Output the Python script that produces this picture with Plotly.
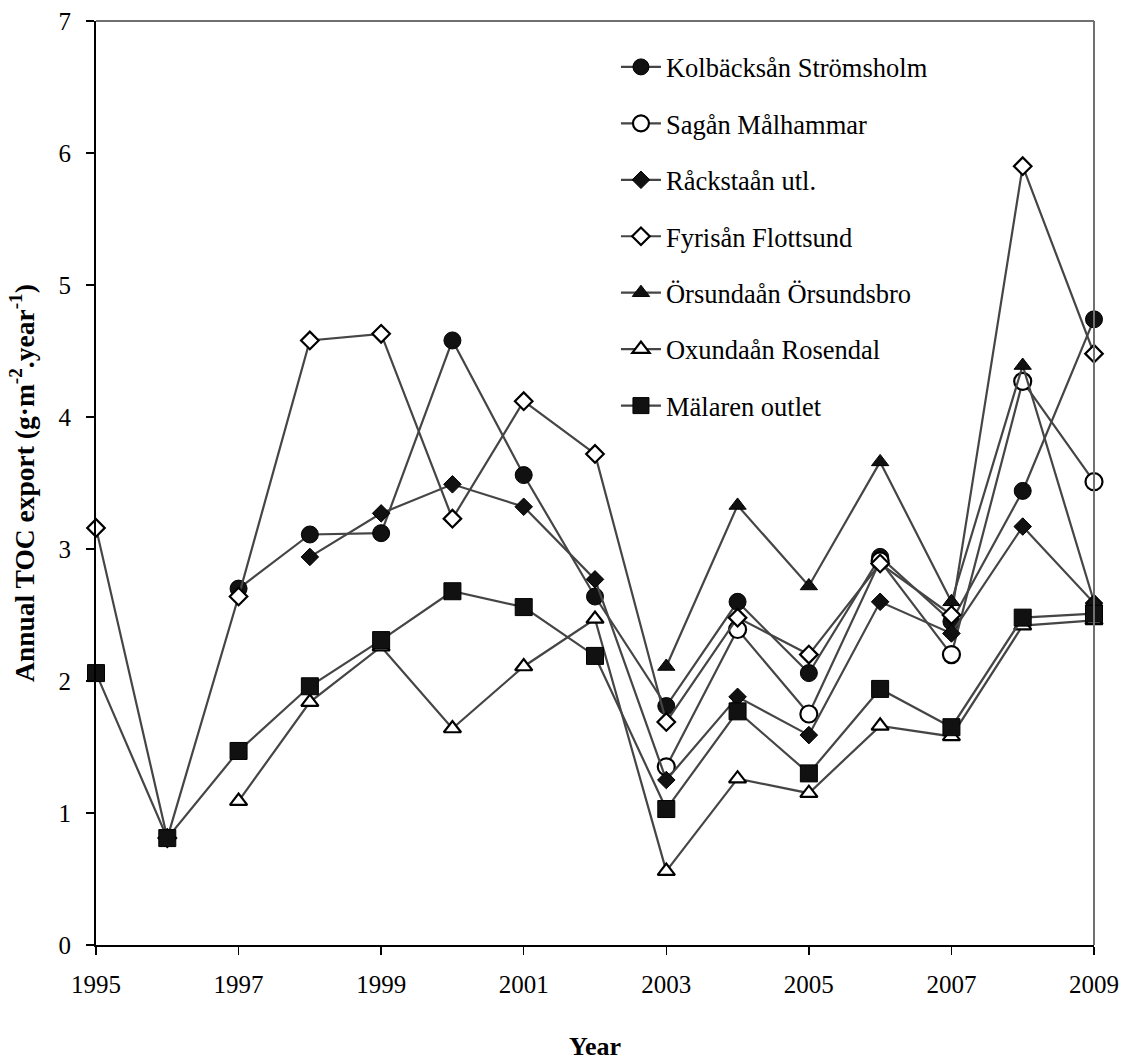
import plotly.graph_objects as go

years = list(range(1995, 2010))
kolbacksan = [None, None, 2.70, 3.11, 3.12, 4.58, 3.56, 2.64, 1.81, 2.60, 2.06, 2.94, 2.45, 3.44, 4.74]
sagan = [None, None, None, None, None, None, None, None, 1.35, 2.39, 1.75, 2.91, 2.20, 4.27, 3.51]
rackstaan = [None, None, None, 2.94, 3.27, 3.49, 3.32, 2.77, 1.25, 1.88, 1.59, 2.60, 2.36, 3.17, 2.59]
fyrisan = [3.16, 0.81, 2.64, 4.58, 4.63, 3.23, 4.12, 3.72, 1.69, 2.48, 2.20, 2.89, 2.50, 5.90, 4.48]
orsundaan = [None, None, None, None, None, None, None, None, 2.11, 3.33, 2.72, 3.66, 2.60, 4.39, 2.60]
oxundaan = [None, None, 1.09, 1.84, 2.26, 1.64, 2.11, 2.47, 0.56, 1.26, 1.15, 1.66, 1.58, 2.42, 2.46]
malaren = [2.06, 0.81, 1.47, 1.96, 2.31, 2.68, 2.56, 2.19, 1.03, 1.77, 1.30, 1.94, 1.65, 2.48, 2.51]

names = ["Kolbäcksån Strömsholm", "Sagån Målhammar", "Råckstaån utl.", "Fyrisån Flottsund",
         "Örsundaån Örsundsbro", "Oxundaån Rosendal", "Mälaren outlet"]
series = [kolbacksan, sagan, rackstaan, fyrisan, orsundaan, oxundaan, malaren]
symbols = ["circle", "circle", "diamond", "diamond", "triangle-up", "triangle-up", "square"]
filled = [True, False, True, False, True, False, True]
sizes = [17, 17, 13.5, 13.5, 15, 15, 17]

FONT = "Liberation Serif, Times New Roman, serif"

fig = go.Figure()
for i, (nm, vals) in enumerate(zip(names, series)):
    fig.add_trace(go.Scatter(
        x=years, y=vals, name=nm, mode="lines+markers",
        connectgaps=False, cliponaxis=False,
        legendgroup=f"g{i}",
        line=dict(color="#454545", width=2.2),
        marker=dict(symbol=symbols[i], size=sizes[i],
                    color="#111111" if filled[i] else "white",
                    line=dict(color="black", width=1 if filled[i] else 2.2)),
    ))

fig.update_layout(
    width=1126, height=1062,
    paper_bgcolor="white", plot_bgcolor="white",
    margin=dict(l=96, r=32, t=21, b=117, autoexpand=False),
    font=dict(family=FONT, size=25, color="black"),
    showlegend=True,
    hovermode=False,
    legend=dict(x=0.521, y=0.976, xanchor="left", yanchor="top",
                font=dict(family=FONT, size=26.5, color="black"),
                bgcolor="rgba(0,0,0,0)", borderwidth=0, itemwidth=40,
                tracegroupgap=19, traceorder="grouped"),
    xaxis=dict(range=[1995, 2009], tickmode="linear", tick0=1995, dtick=2,
               showgrid=False, zeroline=False, showline=True, linecolor="black", linewidth=2,
               ticks="outside", ticklen=8, tickwidth=1.5, tickcolor="black",
               ticklabelstandoff=8,
               tickfont=dict(family=FONT, size=25),
               title=dict(text="<b>Year</b>", font=dict(family=FONT, size=26), standoff=40)),
    yaxis=dict(range=[0, 7], tickmode="linear", tick0=0, dtick=1,
               showgrid=False, zeroline=False, showline=True, linecolor="black", linewidth=2,
               ticks="outside", ticklen=8, tickwidth=1.5, tickcolor="black",
               ticklabelstandoff=10,
               tickfont=dict(family=FONT, size=25),
               title=dict(text="<b>Annual TOC export (g·m<sup>-2</sup>.year<sup>-1</sup>)</b>",
                          font=dict(family=FONT, size=27.5), standoff=16)),
    shapes=[
        dict(type="line", xref="paper", yref="paper", x0=0, x1=1, y0=1, y1=1,
             line=dict(color="#707070", width=2)),
        dict(type="line", xref="paper", yref="paper", x0=1, x1=1, y0=0, y1=1,
             line=dict(color="#707070", width=2)),
    ],
)

fig.write_html("out.html", config={"displayModeBar": False, "staticPlot": True},
               post_script="document.body.style.margin='0';document.body.style.overflow='hidden';")
